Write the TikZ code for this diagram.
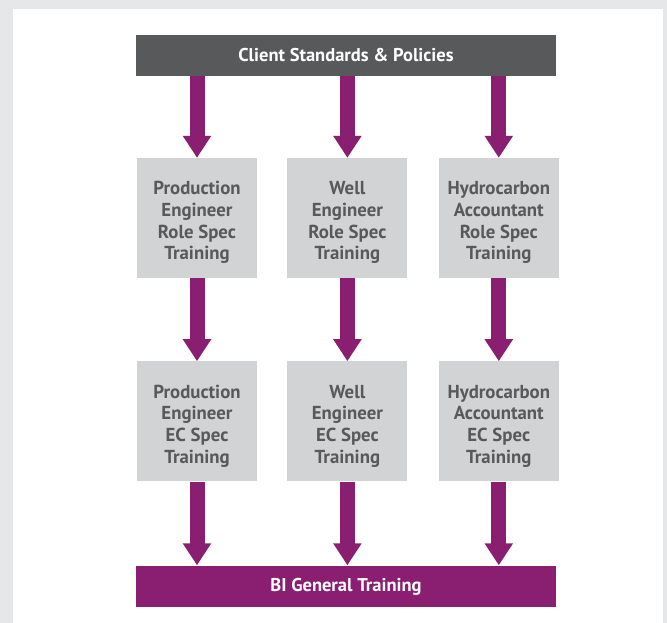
\documentclass[tikz,border=0pt]{standalone}
\usepackage{fontspec}
\setmainfont{PT Sans}
\usepackage{tikz}
\usetikzlibrary{arrows.meta,positioning}

\definecolor{pagegray}{HTML}{E6E7E8}
\definecolor{bargray}{HTML}{58595B}
\definecolor{boxgray}{HTML}{D1D3D4}
\definecolor{plum}{HTML}{8A1F71}

\begin{document}
\begin{tikzpicture}[
    x=1pt, y=1pt,
    bar/.style={rectangle, minimum width=420pt, minimum height=41pt, inner sep=0pt,
        text=white, font=\fontsize{18.5}{22}\selectfont\bfseries},
    stage/.style={rectangle, fill=boxgray, minimum width=120pt, minimum height=120pt,
        inner sep=0pt, align=center, text=bargray, text height=87.5pt,
        font=\fontsize{18.8}{21.7}\selectfont\bfseries},
    flow/.style={-{Triangle[width=27pt,length=22pt]}, line width=15pt, draw=plum}
]
    % page and panel
    \fill[pagegray] (0,0) rectangle (667,-623);
    \fill[white] (13,-9) rectangle (663,-623);
    \useasboundingbox (0,0) rectangle (667,-623);

    \node[bar, fill=bargray] (client) at (346,-55.5) {Client Standards \& Policies};

    % role spec row
    \node[stage] (prodrole) at (197,-218) {Production\\Engineer\\Role Spec\\Training};
    \node[stage, right=30pt of prodrole] (wellrole) {Well\\Engineer\\Role Spec\\Training};
    \node[stage, right=31pt of wellrole] (hydrorole) {Hydrocarbon\\Accountant\\Role Spec\\Training};

    % ec spec row
    \node[stage, below=83pt of prodrole] (prodec) {Production\\Engineer\\EC Spec\\Training};
    \node[stage, below=83pt of wellrole] (wellec) {Well\\Engineer\\EC Spec\\Training};
    \node[stage, below=83pt of hydrorole] (hydroec) {Hydrocarbon\\Accountant\\EC Spec\\Training};

    \node[bar, fill=plum, text depth=2pt] (general) at (346,-586) {BI General Training};

    \foreach \col in {prod,well,hydro} {
        \draw[flow] (client.south -| \col role.north) -- (\col role.north);
        \draw[flow] (\col role) -- (\col ec);
        \draw[flow] (\col ec.south) -- (general.north -| \col ec.south);
    }
\end{tikzpicture}
\end{document}
